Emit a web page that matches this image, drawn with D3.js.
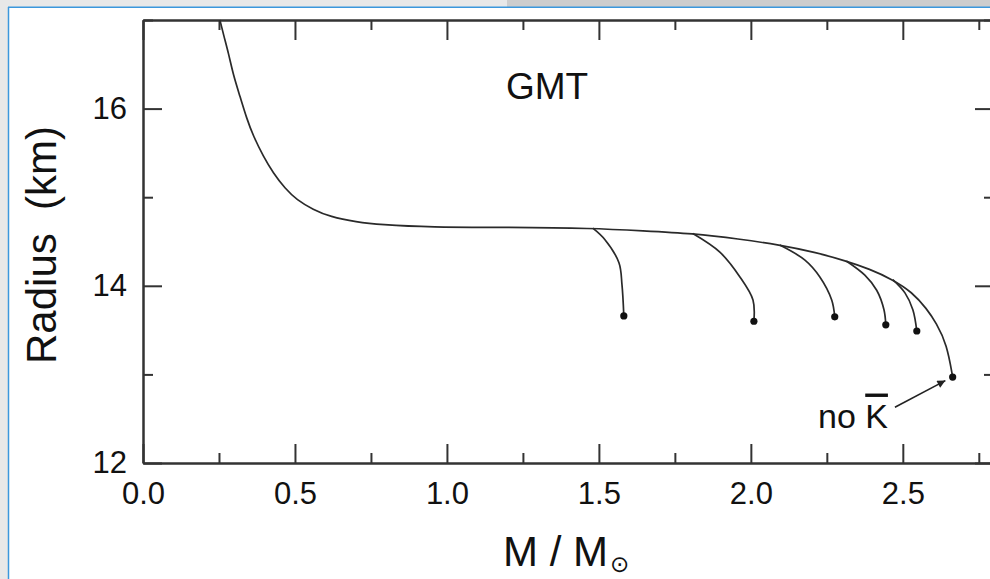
<!DOCTYPE html>
<html>
<head>
<meta charset="utf-8">
<script src="https://cdn.jsdelivr.net/npm/d3@7"></script>
<style>
  body { margin: 0; background: #fff; }
  text { font-family: "Liberation Sans", Arial, Helvetica, sans-serif; fill: #111; }
</style>
</head>
<body>
<div id="chart"></div>
<script>
const WIDTH = 990;
const HEIGHT = 579;

// main GMT sequence (mass in solar masses, radius in km)
const mainMass = [0.253, 0.266, 0.281, 0.297, 0.319, 0.341, 0.363, 0.396, 0.429, 0.467, 0.506, 0.560, 0.615, 0.703, 0.780, 0.944, 1.2, 1.48, 1.645, 1.809, 1.96, 2.095, 2.21, 2.314, 2.39, 2.467, 2.53, 2.579, 2.61, 2.645, 2.664];
const mainRadius = [17.0, 16.82, 16.63, 16.38, 16.14, 15.89, 15.69, 15.46, 15.27, 15.10, 14.97, 14.86, 14.78, 14.72, 14.69, 14.66, 14.66, 14.65, 14.62, 14.59, 14.53, 14.46, 14.38, 14.28, 14.19, 14.07, 13.93, 13.74, 13.58, 13.34, 12.97];

// side branches, ending in a dot
const branchMass = [
  [1.480, 1.520, 1.566, 1.576, 1.582],
  [1.809, 1.898, 1.964, 2.007, 2.010],
  [2.095, 2.178, 2.227, 2.266, 2.276],
  [2.314, 2.375, 2.414, 2.438, 2.444],
  [2.467, 2.507, 2.533, 2.546]
];
const branchRadius = [
  [14.65, 14.52, 14.26, 14.01, 13.66],
  [14.59, 14.38, 14.10, 13.84, 13.60],
  [14.46, 14.29, 14.10, 13.84, 13.65],
  [14.28, 14.12, 13.95, 13.73, 13.56],
  [14.07, 13.92, 13.73, 13.49]
];

const xMajor = [0, 0.5, 1.0, 1.5, 2.0, 2.5];
const xMinor = [0.25, 0.75, 1.25, 1.75, 2.25, 2.75];
const yMajor = [12, 14, 16];
const yMinor = [13, 15, 17];

// arrow pointing at the end of the main sequence
const arrowMass = [2.474, 2.640];
const arrowRadius = [12.63, 12.93];

const x = d3.scaleLinear().domain([0, 2.8]).range([143, 994]);
const y = d3.scaleLinear().domain([12, 17]).range([463, 20]);

const svg = d3.select('#chart').append('svg')
  .attr('width', WIDTH)
  .attr('height', HEIGHT);

// page frame around the figure
svg.append('rect').attr('width', WIDTH).attr('height', HEIGHT).attr('fill', '#e8e8e8');
svg.append('rect').attr('x', 507).attr('y', 0).attr('width', WIDTH - 507).attr('height', 7).attr('fill', '#cdcdcd');
svg.append('rect').attr('x', 9).attr('y', 8).attr('width', WIDTH - 9).attr('height', HEIGHT - 8).attr('fill', '#fff');
svg.append('line').attr('x1', 8.5).attr('y1', 7).attr('x2', 8.5).attr('y2', HEIGHT)
  .attr('stroke', '#3b97dc').attr('stroke-width', 1.5);
svg.append('line').attr('x1', 8).attr('y1', 7.2).attr('x2', WIDTH).attr('y2', 7.2)
  .attr('stroke', '#3b97dc').attr('stroke-width', 1.5);

const defs = svg.append('defs');
defs.append('marker')
  .attr('id', 'head')
  .attr('viewBox', '0 0 10 10')
  .attr('refX', 10).attr('refY', 5)
  .attr('markerWidth', 14).attr('markerHeight', 8)
  .attr('markerUnits', 'userSpaceOnUse')
  .attr('orient', 'auto')
  .append('path')
  .attr('d', 'M0,0 L10,5 L0,10 z')
  .attr('fill', '#222');

// axes, ticks pointing inwards
const styleAxis = g => {
  g.selectAll('.domain').attr('stroke', '#333').attr('stroke-width', 2);
  g.selectAll('.tick line').attr('stroke', '#333').attr('stroke-width', 2);
  g.selectAll('.tick text').attr('font-size', 31).attr('fill', '#111')
    .attr('font-family', '"Liberation Sans", Arial, sans-serif');
};

svg.append('g').attr('transform', `translate(0,${y(12)})`)
  .call(d3.axisBottom(x).tickValues(xMajor).tickSize(-19).tickSizeOuter(0).tickPadding(19).tickFormat(d3.format('.1f')))
  .call(styleAxis);
svg.append('g').attr('transform', `translate(0,${y(12)})`)
  .call(d3.axisBottom(x).tickValues(xMinor).tickSize(-10).tickSizeOuter(0).tickFormat(''))
  .call(styleAxis);
svg.append('g').attr('transform', `translate(0,${y(17)})`)
  .call(d3.axisTop(x).tickValues(xMajor).tickSize(-20).tickSizeOuter(0).tickFormat(''))
  .call(styleAxis);
svg.append('g').attr('transform', `translate(0,${y(17)})`)
  .call(d3.axisTop(x).tickValues(xMinor).tickSize(-10).tickSizeOuter(0).tickFormat(''))
  .call(styleAxis);

svg.append('g').attr('transform', `translate(${x(0)},0)`)
  .call(d3.axisLeft(y).tickValues(yMajor).tickSize(-19).tickSizeOuter(0).tickPadding(16).tickFormat(d3.format('d')))
  .call(styleAxis);
svg.append('g').attr('transform', `translate(${x(0)},0)`)
  .call(d3.axisLeft(y).tickValues(yMinor).tickSize(-10).tickSizeOuter(0).tickFormat(''))
  .call(styleAxis);
svg.append('g').attr('transform', `translate(${x(2.8)},0)`)
  .call(d3.axisRight(y).tickValues(yMajor).tickSize(-19).tickSizeOuter(0).tickFormat(''))
  .call(styleAxis);
svg.append('g').attr('transform', `translate(${x(2.8)},0)`)
  .call(d3.axisRight(y).tickValues(yMinor).tickSize(-10).tickSizeOuter(0).tickFormat(''))
  .call(styleAxis);

// curves: the main sequence is smoothed, branches pass through their points
const mainLine = d3.line()
  .x(d => x(d[0]))
  .y(d => y(d[1]))
  .curve(d3.curveBasis);

const branchLine = d3.line()
  .x(d => x(d[0]))
  .y(d => y(d[1]))
  .curve(d3.curveCatmullRom.alpha(0.5));

const mainCurve = d3.zip(mainMass, mainRadius);
const branches = branchMass.map((ms, i) => d3.zip(ms, branchRadius[i]));

svg.append('path')
  .datum(mainCurve)
  .attr('d', mainLine)
  .attr('fill', 'none')
  .attr('stroke', '#2a2a2a')
  .attr('stroke-width', 1.7);

svg.append('g').selectAll('path')
  .data(branches)
  .enter()
  .append('path')
  .attr('d', branchLine)
  .attr('fill', 'none')
  .attr('stroke', '#2a2a2a')
  .attr('stroke-width', 1.7);

svg.append('g').selectAll('circle')
  .data([mainCurve].concat(branches).map(c => c[c.length - 1]))
  .enter()
  .append('circle')
  .attr('cx', d => x(d[0]))
  .attr('cy', d => y(d[1]))
  .attr('r', 3.6)
  .attr('fill', '#111');

svg.append('line')
  .attr('x1', x(arrowMass[0])).attr('y1', y(arrowRadius[0]))
  .attr('x2', x(arrowMass[1])).attr('y2', y(arrowRadius[1]))
  .attr('stroke', '#222').attr('stroke-width', 1.6)
  .attr('marker-end', 'url(#head)');

// labels
const noK = svg.append('text')
  .attr('x', x(2.451)).attr('y', y(12.4))
  .attr('text-anchor', 'end')
  .attr('font-size', 34);
noK.append('tspan').text('no ');
noK.append('tspan').text('K').style('text-decoration', 'overline');

svg.append('text')
  .attr('x', 547).attr('y', 99)
  .attr('text-anchor', 'middle')
  .attr('font-size', 37)
  .text('GMT');

const xl = svg.append('text')
  .attr('x', 503).attr('y', 566)
  .attr('font-size', 42);
xl.append('tspan').text('M / M');
xl.append('tspan').text('⊙')
  .attr('dy', 6).attr('dx', 2)
  .attr('font-size', 23)
  .attr('font-family', '"DejaVu Sans", sans-serif');

svg.append('text')
  .attr('transform', 'translate(56,364) rotate(-90)')
  .attr('font-size', 42)
  .attr('xml:space', 'preserve')
  .style('white-space', 'pre')
  .text('Radius  (km)');
</script>
</body>
</html>
